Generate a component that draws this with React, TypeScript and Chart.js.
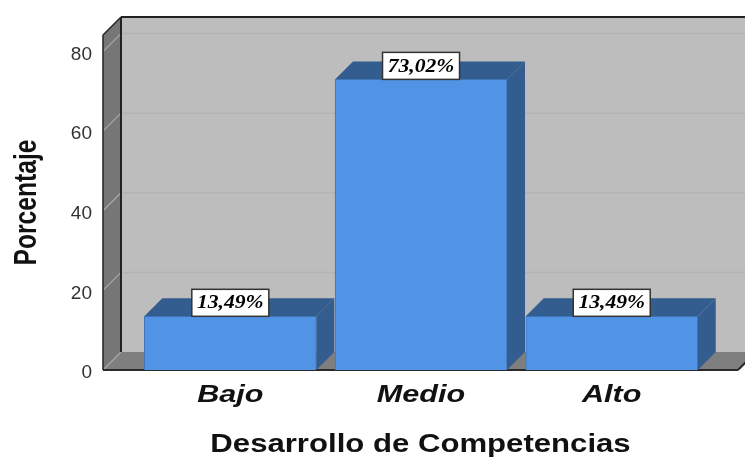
import React, { useEffect, useRef } from "react";
import { Chart, registerables } from "chart.js";

Chart.register(...registerables);

const categories = ["Bajo", "Medio", "Alto"];
const values = [13.49, 73.02, 13.49];
const valueLabels = ["13,49%", "73,02%", "13,49%"];
const yTicks = [0, 20, 40, 60, 80];
const xTitle = "Desarrollo de Competencias";
const yTitle = "Porcentaje";

const DEPTH = 18;

const poly = (ctx: any, pts: number[][], fill: string) => {
  ctx.beginPath();
  pts.forEach(([x, y], i) => (i ? ctx.lineTo(x, y) : ctx.moveTo(x, y)));
  ctx.closePath();
  ctx.fillStyle = fill;
  ctx.fill();
};

const line = (ctx: any, x1: number, y1: number, x2: number, y2: number, color: string, w: number) => {
  ctx.beginPath();
  ctx.moveTo(x1, y1);
  ctx.lineTo(x2, y2);
  ctx.strokeStyle = color;
  ctx.lineWidth = w;
  ctx.stroke();
};

// The reference's text is stretched: keep it as axis text, drawn under a scale transform.
const stretchText = (chart: any) => {
  const { ctx, scales } = chart;
  const x = scales.x;
  const y = scales.y;
  if (x.__stretched) return;
  x.__stretched = true;
  const xTitleDraw = x.drawTitle.bind(x);
  x.drawTitle = () => {
    const cx = (x.left + x.right) / 2;
    ctx.save();
    ctx.translate(cx, 0);
    ctx.scale(1.197, 1);
    ctx.translate(-cx, 0);
    xTitleDraw();
    ctx.restore();
  };
  const yTitleDraw = y.drawTitle.bind(y);
  y.drawTitle = () => {
    const cy = (y.top + y.bottom) / 2;
    ctx.save();
    ctx.translate(0, cy);
    ctx.scale(1, 0.77);
    ctx.translate(0, -cy);
    yTitleDraw();
    ctx.restore();
  };
  const xLabelsDraw = x.drawLabels.bind(x);
  x.drawLabels = (area: any) => {
    const items = x.getLabelItems(area);
    items.forEach((item: any) => {
      const px = item.options.translation[0];
      ctx.save();
      ctx.translate(px, 0);
      ctx.scale(1.33, 1);
      ctx.translate(-px, 0);
      x._labelItems = [item];
      xLabelsDraw(area);
      ctx.restore();
    });
    x._labelItems = items;
  };
};

const box3d = {
  id: "box3d",
  beforeDraw: stretchText,
  beforeDatasetsDraw(chart: any) {
    const { ctx, chartArea: a, scales, width } = chart;
    const y = scales.y;
    const bx = a.left + DEPTH;
    const bb = a.bottom - DEPTH;
    const bt = a.top - DEPTH;
    ctx.save();
    poly(ctx, [[bx, bt], [width, bt], [width, bb], [bx, bb]], "#bdbdbd");
    poly(ctx, [[a.left, a.bottom], [a.right, a.bottom], [a.right + DEPTH, bb], [bx, bb]], "#7f7f7f");
    poly(ctx, [[a.left, a.bottom], [a.left, a.top], [bx, bt], [bx, bb]], "#767676");
    yTicks.forEach((t) => {
      const p = y.getPixelForValue(t);
      if (t > 0) line(ctx, bx, p - DEPTH, width, p - DEPTH, "#b3b3b3", 1.5);
      line(ctx, a.left, p, bx, p - DEPTH, "#a9a9a9", 1.2);
    });
    line(ctx, a.left, a.top, a.left, a.bottom, "#222222", 1.5);
    line(ctx, bx, bt, bx, bb, "#222222", 2);
    line(ctx, a.left, a.top, bx, bt, "#222222", 1.5);
    line(ctx, bx, bt, width, bt, "#222222", 2);
    line(ctx, a.left, a.bottom, a.right, a.bottom, "#2a2a2a", 2);
    line(ctx, a.right, a.bottom, a.right + DEPTH, bb, "#2a2a2a", 2);
    chart.getDatasetMeta(0).data.forEach((b: any) => {
      const l = b.x - b.width / 2;
      const r = b.x + b.width / 2;
      poly(ctx, [[l, b.y], [r, b.y], [r + DEPTH, b.y - DEPTH], [l + DEPTH, b.y - DEPTH]], "#335c8f");
      poly(ctx, [[r, b.y], [r + DEPTH, b.y - DEPTH], [r + DEPTH, b.base - DEPTH], [r, b.base]], "#335c8f");
    });
    ctx.restore();
  },
  afterDatasetsDraw(chart: any) {
    const { ctx } = chart;
    chart.getDatasetMeta(0).data.forEach((b: any, i: number) => {
      const w = 77;
      const h = 27;
      const x = b.x - w / 2;
      const top = b.y - h;
      ctx.save();
      ctx.fillStyle = "#ffffff";
      ctx.fillRect(x, top, w, h);
      ctx.strokeStyle = "#333333";
      ctx.lineWidth = 1.5;
      ctx.strokeRect(x, top, w, h);
      ctx.translate(b.x, top + h / 2 + 1);
      ctx.scale(1.2, 1);
      ctx.fillStyle = "#000000";
      ctx.font = "italic bold 18px 'Liberation Serif'";
      ctx.textAlign = "center";
      ctx.textBaseline = "middle";
      ctx.fillText(valueLabels[i], 0, 0);
      ctx.restore();
    });
  },
};

export default function App() {
  const ref = useRef<HTMLCanvasElement>(null);
  useEffect(() => {
    const chart = new Chart(ref.current as HTMLCanvasElement, {
      type: "bar",
      data: {
        datasets: [
          {
            data: values.map((v, i) => ({ x: i, y: v })),
            backgroundColor: "#5193e4",
            borderColor: "#3f74b5",
            borderWidth: 1,
            barThickness: 172,
          },
        ],
      },
      options: {
        responsive: false,
        animation: false,
        layout: { padding: { top: 35, right: 7, left: 0, bottom: 0 } },
        plugins: { legend: { display: false }, tooltip: { enabled: false } },
        scales: {
          x: {
            type: "linear",
            offset: false,
            min: -0.6675,
            max: 2.662,
            afterBuildTicks: (s: any) => {
              s.ticks = categories.map((_, i) => ({ value: i }));
            },
            afterFit: (s: any) => {
              s.height = 87;
            },
            grid: { display: false },
            border: { display: false },
            ticks: {
              callback: (v: any) => categories[v],
              color: "#111111",
              font: { family: "'Liberation Sans'", size: 23, weight: "bold", style: "italic" },
              padding: 4,
              maxRotation: 0,
              autoSkip: false,
            },
            title: {
              display: true,
              text: xTitle,
              color: "#111111",
              font: { family: "'Liberation Sans'", size: 26, weight: "bold" },
              padding: { top: 14, bottom: -3 },
            },
          },
          y: {
            min: 0,
            max: 84.17,
            afterFit: (s: any) => {
              s.width = 103;
            },
            grid: { display: false },
            border: { display: false },
            ticks: {
              stepSize: 20,
              includeBounds: false,
              color: "#333333",
              font: { family: "'Liberation Sans'", size: 19 },
              padding: 3,
              labelOffset: 3,
            },
            title: {
              display: true,
              text: yTitle,
              color: "#111111",
              font: { family: "'Liberation Sans'", size: 32, weight: "bold" },
              padding: { top: 8, bottom: 0 },
            },
          },
        },
      } as any,
      plugins: [box3d],
    });
    return () => chart.destroy();
  }, []);
  return (
    <div style={{ position: "fixed", left: 0, top: 0, width: 745, height: 457, background: "#ffffff" }}>
      <canvas ref={ref} width={745} height={457} style={{ display: "block" }} />
    </div>
  );
}
